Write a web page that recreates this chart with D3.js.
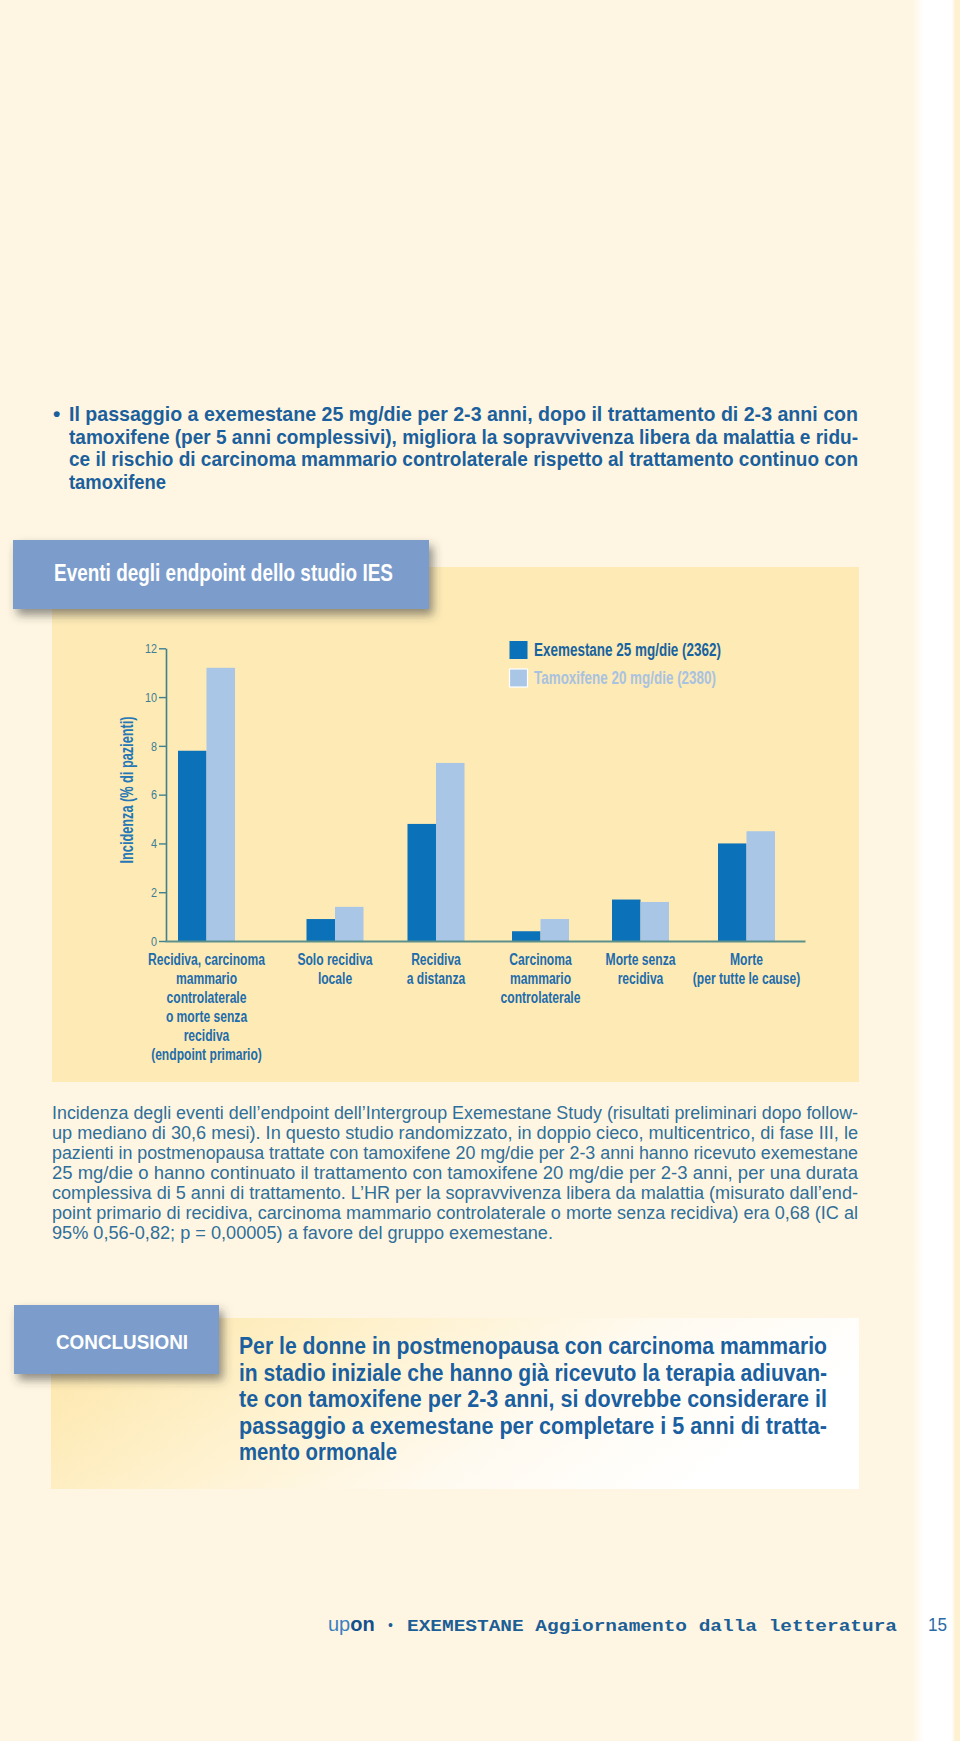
<!DOCTYPE html>
<html><head><meta charset="utf-8">
<script src="https://cdn.jsdelivr.net/npm/d3@7"></script>
<style>
html,body{margin:0;padding:0;background:#fef6e2;}
svg{display:block;}
</style></head>
<body>
<script>
// ---------- DATA ----------
const categories = [
  "Recidiva, carcinoma|mammario|controlaterale|o morte senza|recidiva|(endpoint primario)",
  "Solo recidiva|locale",
  "Recidiva|a distanza",
  "Carcinoma|mammario|controlaterale",
  "Morte senza|recidiva",
  "Morte|(per tutte le cause)"
];
const seriesNames = ["Exemestane 25 mg/die (2362)", "Tamoxifene 20 mg/die (2380)"];
const exemestane = [7.8, 0.9, 4.8, 0.4, 1.7, 4.0];
const tamoxifene = [11.2, 1.4, 7.3, 0.9, 1.6, 4.5];
const yTicks = [0, 2, 4, 6, 8, 10, 12];
const yLabel = "Incidenza (% di pazienti)";
const chartTitle = "Eventi degli endpoint dello studio IES";
const headerLines = [
  "Il passaggio a exemestane 25 mg/die per 2-3 anni, dopo il trattamento di 2-3 anni con",
  "tamoxifene (per 5 anni complessivi), migliora la sopravvivenza libera da malattia e ridu-",
  "ce il rischio di carcinoma mammario controlaterale rispetto al trattamento continuo con",
  "tamoxifene"
];
const captionLines = [
  "Incidenza degli eventi dell\u2019endpoint dell\u2019Intergroup Exemestane Study (risultati preliminari dopo follow-",
  "up mediano di 30,6 mesi). In questo studio randomizzato, in doppio cieco, multicentrico, di fase III, le",
  "pazienti in postmenopausa trattate con tamoxifene 20 mg/die per 2-3 anni hanno ricevuto exemestane",
  "25 mg/die o hanno continuato il trattamento con tamoxifene 20 mg/die per 2-3 anni, per una durata",
  "complessiva di 5 anni di trattamento. L\u2019HR per la sopravvivenza libera da malattia (misurato dall\u2019end-",
  "point primario di recidiva, carcinoma mammario controlaterale o morte senza recidiva) era 0,68 (IC al",
  "95% 0,56-0,82; p = 0,00005) a favore del gruppo exemestane."
];
const conclusionTitle = "CONCLUSIONI";
const conclusionLines = [
  "Per le donne in postmenopausa con carcinoma mammario",
  "in stadio iniziale che hanno gi\u00e0 ricevuto la terapia adiuvan-",
  "te con tamoxifene per 2-3 anni, si dovrebbe considerare il",
  "passaggio a exemestane per completare i 5 anni di tratta-",
  "mento ormonale"
];
const footerText = "EXEMESTANE Aggiornamento dalla letteratura";
const pageNumber = "15";

// ---------- LAYOUT ----------
const W = 960, H = 1741;
const SANS = "'Liberation Sans', Arial, Helvetica, sans-serif";
const MONO = "'Liberation Mono', 'Courier New', monospace";
const C = {
  page: "#fef6e2", panel: "#fdeab5", titleBox: "#7b9dcb",
  dark: "#0b71b8", light: "#a9c6e6", text: "#1b609c", label: "#1d6cab",
  caption: "#2f6f9b", axis: "#3f8191", xaxis: "#5d8f8b", tick: "#3d7d96"
};

const svg = d3.select("body").append("svg").attr("width", W).attr("height", H);
const defs = svg.append("defs");

const sh = defs.append("filter").attr("id", "shadow").attr("x", "-10%").attr("y", "-20%").attr("width", "130%").attr("height", "160%");
sh.append("feDropShadow").attr("dx", 4).attr("dy", 6).attr("stdDeviation", 5)
  .attr("flood-color", "#3a3a3a").attr("flood-opacity", 0.55);

const edge = defs.append("linearGradient").attr("id", "edge").attr("x1", 0).attr("x2", 1).attr("y1", 0).attr("y2", 0);
[[0, C.page], [0.25, "#ffffff"], [0.83, "#ffffff"], [0.9, "#fdf1d2"], [1, "#fdf1d2"]]
  .forEach(([o, c]) => edge.append("stop").attr("offset", o).attr("stop-color", c));

const concl = defs.append("linearGradient").attr("id", "concl").attr("x1", 0).attr("x2", 1).attr("y1", 0).attr("y2", 0.3);
[[0, "#fde5a6"], [0.35, "#fef0c9"], [0.7, "#fffaf0"], [1, "#ffffff"]]
  .forEach(([o, c]) => concl.append("stop").attr("offset", o).attr("stop-color", c));

// background
svg.append("rect").attr("width", W).attr("height", H).attr("fill", C.page);
svg.append("rect").attr("x", 912).attr("y", 0).attr("width", 48).attr("height", H).attr("fill", "url(#edge)");

function fitText(sel, width) {
  sel.attr("textLength", width).attr("lengthAdjust", "spacingAndGlyphs");
}
function condense(sel, k) {
  sel.each(function () {
    const L = this.getComputedTextLength();
    this.setAttribute("textLength", L * k);
    this.setAttribute("lengthAdjust", "spacingAndGlyphs");
  });
}

// ---------- HEADER ----------
svg.append("text").attr("x", 53).attr("y", 421).attr("font-family", SANS).attr("font-weight", "bold")
  .attr("font-size", 21).attr("fill", C.text).text("\u2022");
headerLines.forEach((l, i) => {
  const t = svg.append("text").attr("x", 69).attr("y", 421 + i * 22.7)
    .attr("font-family", SANS).attr("font-weight", "bold").attr("font-size", 21)
    .attr("fill", C.text).text(l);
  if (i < headerLines.length - 1) fitText(t, 789); else fitText(t, 97);
});

// ---------- CHART PANEL ----------
svg.append("rect").attr("x", 52).attr("y", 567).attr("width", 807).attr("height", 515).attr("fill", C.panel);
svg.append("rect").attr("x", 13).attr("y", 540).attr("width", 416).attr("height", 69)
  .attr("fill", C.titleBox).attr("filter", "url(#shadow)");
fitText(svg.append("text").attr("x", 54).attr("y", 581).attr("font-family", SANS).attr("font-weight", "bold")
  .attr("font-size", 24).attr("fill", "#ffffff").text(chartTitle), 339);

const y = d3.scaleLinear().domain([0, 12]).range([941, 648.3]);
const x = d3.scaleOrdinal().domain(categories).range([206.5, 335, 436, 540.5, 640.5, 746.5]);
const sub = d3.scaleBand().domain(seriesNames).range([-28.5, 28.5]);
const color = d3.scaleOrdinal().domain(seriesNames).range([C.dark, C.light]);

const rows = categories.map((c, i) => ({ cat: c, vals: [exemestane[i], tamoxifene[i]] }));
const g = svg.append("g");
g.selectAll("g.grp").data(rows).join("g").attr("class", "grp")
  .selectAll("rect").data(d => seriesNames.map((s, j) => ({ cat: d.cat, s, v: d.vals[j] })))
  .join("rect")
  .attr("x", d => x(d.cat) + sub(d.s))
  .attr("y", d => y(d.v))
  .attr("width", sub.bandwidth())
  .attr("height", d => y(0) - y(d.v))
  .attr("fill", d => color(d.s));

// y axis
const yAxis = svg.append("g").attr("transform", "translate(166,0)")
  .call(d3.axisLeft(y).tickValues(yTicks).tickSize(7).tickSizeOuter(0).tickPadding(2));
yAxis.select(".domain").attr("stroke", C.axis).attr("stroke-width", 1.6);
yAxis.selectAll(".tick line").attr("stroke", C.axis).attr("stroke-width", 1.4);
yAxis.selectAll(".tick text").attr("font-family", SANS).attr("font-size", 13.5).attr("fill", C.tick)
  .call(condense, 0.8);

// x axis baseline
const xr = d3.scaleLinear().range([165, 805]);
const xAxis = svg.append("g").attr("transform", `translate(0,${y(0)})`)
  .call(d3.axisBottom(xr).ticks(0).tickSizeOuter(0));
xAxis.select(".domain").attr("stroke", C.xaxis).attr("stroke-width", 2);

// y label
fitText(svg.append("text").attr("transform", "translate(133,790) rotate(-90)").attr("text-anchor", "middle")
  .attr("font-family", SANS).attr("font-weight", "bold").attr("font-size", 17.5).attr("fill", "#2577b5")
  .text(yLabel), 147);

// category labels
categories.forEach(c => {
  c.split("|").forEach((line, k) => {
    svg.append("text").attr("x", x(c)).attr("y", 965 + k * 19).attr("text-anchor", "middle")
      .attr("font-family", SANS).attr("font-weight", "bold").attr("font-size", 16).attr("fill", C.label)
      .text(line).call(condense, 0.755);
  });
});

// legend
const legW = [187, 182];
seriesNames.forEach((s, i) => {
  svg.append("rect").attr("x", 509.5).attr("y", 641 + i * 28).attr("width", 18).attr("height", 18)
    .attr("fill", color(s)).attr("stroke", i === 1 ? "#ffffff" : "none").attr("stroke-width", 1.2);
  fitText(svg.append("text").attr("x", 534).attr("y", 655.5 + i * 28).attr("font-family", SANS)
    .attr("font-weight", "bold").attr("font-size", 17.5).attr("fill", i === 0 ? "#17639f" : "#a9c2e0")
    .text(s), legW[i]);
});

// ---------- CAPTION ----------
captionLines.forEach((l, i) => {
  const t = svg.append("text").attr("x", 52).attr("y", 1119 + i * 20)
    .attr("font-family", SANS).attr("font-size", 17.5).attr("fill", C.caption).text(l);
  if (i < captionLines.length - 1) fitText(t, 806); else fitText(t, 501);
});

// ---------- CONCLUSIONS ----------
svg.append("rect").attr("x", 51).attr("y", 1318).attr("width", 808).attr("height", 171).attr("fill", "url(#concl)");
svg.append("rect").attr("x", 14).attr("y", 1305).attr("width", 205).attr("height", 69)
  .attr("fill", C.titleBox).attr("filter", "url(#shadow)");
fitText(svg.append("text").attr("x", 56).attr("y", 1349).attr("font-family", SANS).attr("font-weight", "bold")
  .attr("font-size", 21).attr("fill", "#ffffff").text(conclusionTitle), 132);
conclusionLines.forEach((l, i) => {
  const t = svg.append("text").attr("x", 239).attr("y", 1354 + i * 26.6)
    .attr("font-family", SANS).attr("font-weight", "bold").attr("font-size", 23.5).attr("fill", "#1a5f9f").text(l);
  if (i < conclusionLines.length - 1) fitText(t, 588); else fitText(t, 158);
});

// ---------- FOOTER ----------
const up = svg.append("text").attr("x", 328).attr("y", 1631).attr("font-family", SANS).attr("font-size", 20);
up.append("tspan").attr("fill", "#3a7fc0").text("up");
up.append("tspan").attr("fill", "#13508c").attr("font-weight", "bold").text("on");
svg.append("text").attr("x", 388).attr("y", 1630).attr("font-family", SANS).attr("font-size", 14)
  .attr("fill", "#1c5e96").text("\u2022");
fitText(svg.append("text").attr("x", 407).attr("y", 1631).attr("font-family", MONO).attr("font-weight", "bold")
  .attr("font-size", 16).attr("fill", "#1c5e96").text(footerText), 490);
fitText(svg.append("text").attr("x", 928).attr("y", 1631).attr("font-family", SANS).attr("font-size", 19)
  .attr("fill", "#2a6aa5").text(pageNumber), 19);
</script>
</body></html>
